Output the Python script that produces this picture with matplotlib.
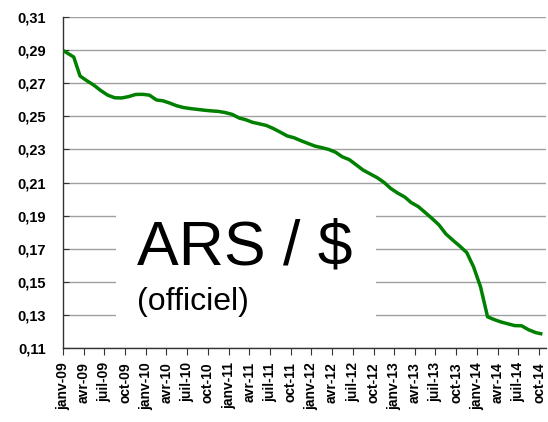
import matplotlib
matplotlib.use('Agg')
import matplotlib.pyplot as plt
from matplotlib.patches import Rectangle
import pandas as pd

plt.rcParams['font.family'] = ['Liberation Sans', 'DejaVu Sans']

# monthly average ARS per USD, plotted mid-month (janv-09 .. oct-14)
ars_usd = [0.2883, 0.2857, 0.2742, 0.2713, 0.2687, 0.2654, 0.2627, 0.2611, 0.2610, 0.2618,
           0.2631, 0.2632, 0.2627, 0.2598, 0.2593, 0.2579, 0.2563, 0.2552, 0.2546, 0.2541,
           0.2536, 0.2532, 0.2529, 0.2522, 0.2511, 0.2489, 0.2479, 0.2463, 0.2454, 0.2444,
           0.2426, 0.2404, 0.2381, 0.2370, 0.2352, 0.2336, 0.2320, 0.2310, 0.2300, 0.2283,
           0.2255, 0.2238, 0.2207, 0.2175, 0.2152, 0.2130, 0.2101, 0.2064, 0.2036, 0.2012,
           0.1979, 0.1955, 0.1920, 0.1883, 0.1845, 0.1790, 0.1752, 0.1717, 0.1678, 0.1592,
           0.1471, 0.1290, 0.1274, 0.1259, 0.1248, 0.1237, 0.1236, 0.1212, 0.1195, 0.1186]
start_date = '2009-01-01'
start_value = 0.2895

tick_labels = ['janv-09', 'avr-09', 'juil-09', 'oct-09',
               'janv-10', 'avr-10', 'juil-10', 'oct-10',
               'janv-11', 'avr-11', 'juil-11', 'oct-11',
               'janv-12', 'avr-12', 'juil-12', 'oct-12',
               'janv-13', 'avr-13', 'juil-13', 'oct-13',
               'janv-14', 'avr-14', 'juil-14', 'oct-14']

months = pd.date_range(start_date, periods=len(ars_usd), freq='MS') + pd.Timedelta(days=15)
dates = [pd.Timestamp(start_date)] + list(months)
values = [start_value] + ars_usd
ticks = pd.date_range(start_date, periods=len(tick_labels), freq='QS')

fig = plt.figure(figsize=(5.48, 4.22), dpi=100)
ax = fig.add_axes([0.1155, 0.1746, 0.8809, 0.7858])

ax.plot(dates, values, color='#008000', linewidth=2.5, zorder=3, solid_capstyle='butt')

ax.set_ylim(0.11, 0.31)
ax.set_yticks([0.11, 0.13, 0.15, 0.17, 0.19, 0.21, 0.23, 0.25, 0.27, 0.29, 0.31])
ax.set_yticklabels([f'{v:.2f}'.replace('.', ',') for v in ax.get_yticks()],
                   fontsize=10.5, fontweight='bold')
ax.set_xlim(pd.Timestamp('2009-01-01'), pd.Timestamp('2014-11-01'))
ax.set_xticks(ticks)
ax.set_xticklabels(tick_labels, rotation=90, fontsize=10, fontweight='bold')

ax.tick_params(axis='y', direction='in', length=4, pad=12.5, color='#333333')
ax.tick_params(axis='x', direction='out', length=5, pad=5, color='#333333')
ax.grid(axis='y', color='#a0a0a0', linewidth=1)
ax.set_axisbelow(True)
for s in ['top', 'right']:
    ax.spines[s].set_visible(False)
for s in ['left', 'bottom']:
    ax.spines[s].set_color('#333333')
    ax.spines[s].set_linewidth(1)

# white label box hiding the grid
ax.add_patch(Rectangle((0.109, 0.037), 0.539, 0.44, transform=ax.transAxes,
                       facecolor='white', edgecolor='none', zorder=2))
ax.text(0.152, 0.254, 'ARS / $', transform=ax.transAxes, fontsize=45,
        ha='left', va='baseline', zorder=4)
ax.text(0.152, 0.1155, '(officiel)', transform=ax.transAxes, fontsize=23,
        ha='left', va='baseline', zorder=4)

fig.savefig('out.png', dpi=100)
